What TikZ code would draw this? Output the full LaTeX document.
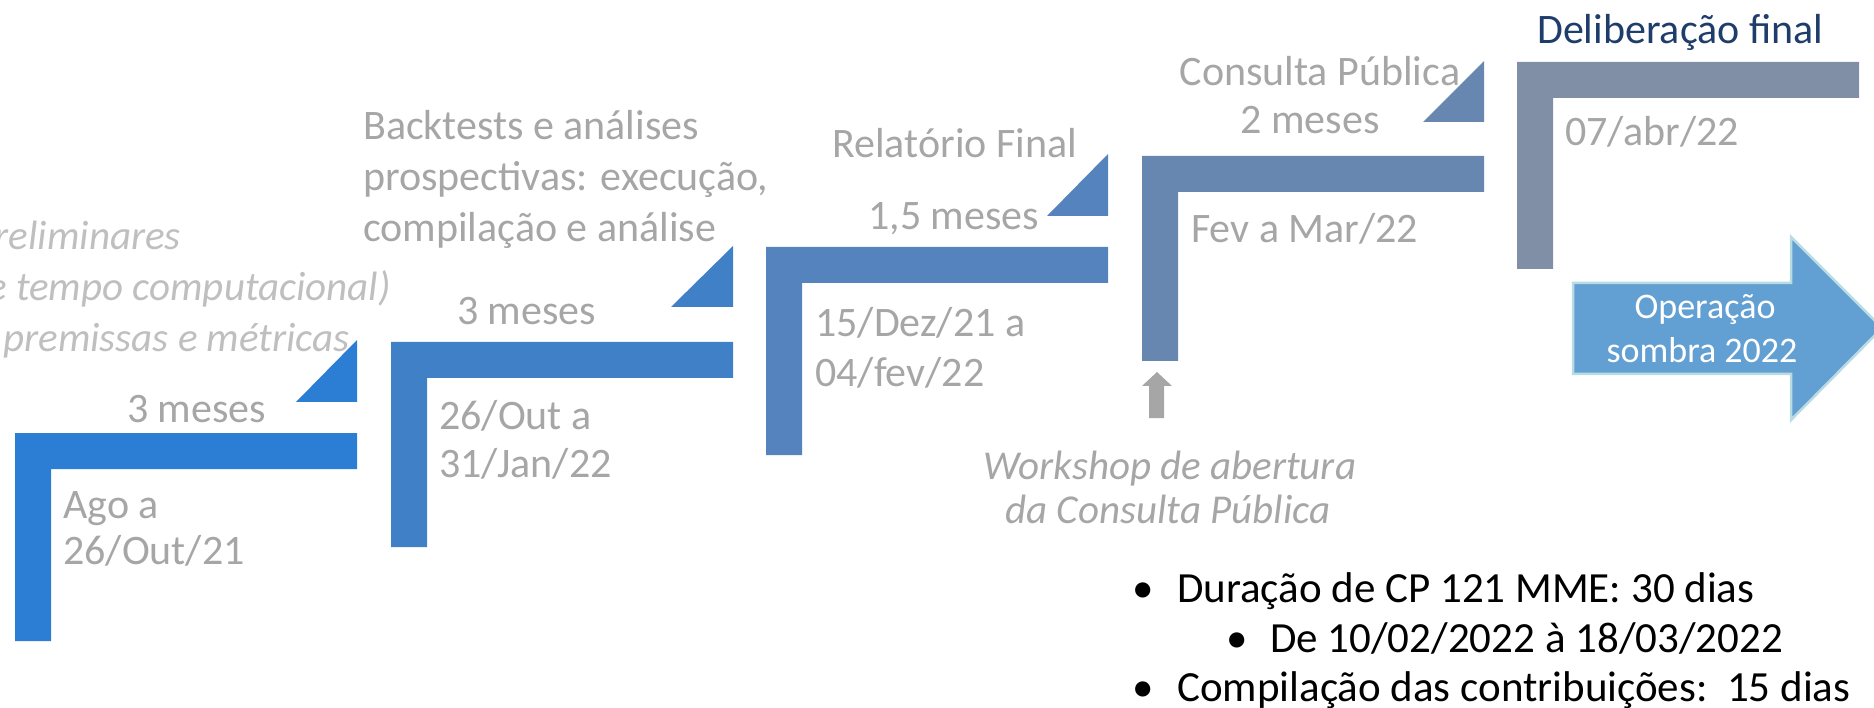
\documentclass[tikz,border=0pt]{standalone}
\usepackage{fontspec}
\setmainfont{Carlito}
\definecolor{sA}{HTML}{2C7ED4}
\definecolor{sB}{HTML}{4080C7}
\definecolor{sC}{HTML}{5483BD}
\definecolor{sD}{HTML}{6887B0}
\definecolor{sE}{HTML}{808EA6}
\definecolor{txtgrey}{HTML}{A6A6A6}
\definecolor{ltgrey}{HTML}{BFBFBF}
\definecolor{navy}{HTML}{1F3D6B}
\definecolor{opfill}{HTML}{629FD2}
\definecolor{opedge}{HTML}{B9DCE3}
\begin{document}
\begin{tikzpicture}[x=1pt,y=-1pt,
  lbl/.style={inner sep=0pt, text=txtgrey, font=\fontsize{42}{50}\selectfont},
  ital/.style={inner sep=0pt, text=ltgrey, font=\fontsize{41}{50}\selectfont\itshape},
  wsl/.style={inner sep=0pt, text=txtgrey, font=\fontsize{41}{50}\selectfont\itshape},
  bul/.style={inner sep=0pt, text=black, font=\fontsize{43}{50}\selectfont},
  optext/.style={inner sep=0pt, text=white, font=\fontsize{36}{44}\selectfont},
  ttl/.style={inner sep=0pt, text=navy, font=\fontsize{42}{50}\selectfont}
]
\useasboundingbox (0,0) rectangle (1874,708);

% step shapes (L-shapes) and triangles
\fill[sA] (15,433) -- (357,433) -- (357,469) -- (51,469) -- (51,641) -- (15,641) -- cycle;
\fill[sA] (296,402) -- (357,402) -- (357,340) -- cycle;
\fill[sB] (391,342) -- (733,342) -- (733,378) -- (427,378) -- (427,547) -- (391,547) -- cycle;
\fill[sB] (671,307) -- (733,307) -- (733,246) -- cycle;
\fill[sC] (766,247) -- (1108,247) -- (1108,283) -- (802,283) -- (802,455) -- (766,455) -- cycle;
\fill[sC] (1047,216) -- (1108,216) -- (1108,154) -- cycle;
\fill[sD] (1142,156) -- (1484,156) -- (1484,192) -- (1178,192) -- (1178,361) -- (1142,361) -- cycle;
\fill[sD] (1423,122) -- (1484,122) -- (1484,61) -- cycle;
\fill[sE] (1517,62) -- (1859,62) -- (1859,98) -- (1553,98) -- (1553,269) -- (1517,269) -- cycle;

% big arrow
\draw[fill=opfill, draw=opedge, line width=2.5pt, line join=miter]
  (1573,283) -- (1791,283) -- (1791,237) -- (1882,328) -- (1791,420) -- (1791,374) -- (1573,374) -- cycle;

% grey up arrow
\fill[txtgrey] (1149,418) -- (1149,386) -- (1142,386) -- (1157,372) -- (1172,386) -- (1164,386) -- (1164,418) -- cycle;

% step 1 texts
\node[ital, anchor=base east] (p1) at (181,250) {preliminares};
\node[ital, anchor=base east] (p2) at (391,301) {e tempo computacional)};
\node[ital, anchor=base east] (p3) at (350,352) {premissas e métricas};
\node[lbl, anchor=base west] (d1) at (127,422) {3 meses};
\node[lbl, anchor=base west] (a1) at (63,518) {Ago a};
\node[lbl, anchor=base west] (a2) at (63,564) {26/Out/21};

% step 2 texts
\node[lbl, anchor=base west] (b1) at (363,140) {Backtests e análises};
\node[lbl, anchor=base west] (b2) at (363,191) {prospectivas: execução,};
\node[lbl, anchor=base west] (b3) at (363,242) {compilação e análise};
\node[lbl, anchor=base west] (d2) at (457,325) {3 meses};
\node[lbl, anchor=base west] (c1) at (439,429) {26/Out a};
\node[lbl, anchor=base west] (c2) at (439,477) {31/Jan/22};

% step 3 texts
\node[lbl, anchor=base west] (r1) at (832,158) {Relatório Final};
\node[lbl, anchor=base west] (d3) at (868,230) {1,5 meses};
\node[lbl, anchor=base west] (e1) at (815,337) {15/Dez/21 a};
\node[lbl, anchor=base west] (e2) at (815,387) {04/fev/22};

% step 4 texts
\node[lbl, anchor=base] (cp1) at (1320,86) {Consulta Pública};
\node[lbl, anchor=base] (cp2) at (1310,134) {2 meses};
\node[lbl, anchor=base west] (f1) at (1191,243) {Fev a Mar/22};

% step 5 texts
\node[ttl, anchor=base west] (t5) at (1537,44) {Deliberação final};
\node[lbl, anchor=base west] (g1) at (1565,146) {07/abr/22};

% arrow text
\node[optext, anchor=base] (o1) at (1705,319) {Operação};
\node[optext, anchor=base] (o2) at (1702,363) {sombra 2022};

% workshop text
\node[wsl, anchor=base] (w1) at (1170,479) {Workshop de abertura};
\node[wsl, anchor=base] (w2) at (1168,523) {da Consulta Pública};

% bullets
\node[bul, anchor=base] (k1) at (1143,602) {•};
\node[bul, anchor=base west] (l1) at (1177,602) {Duração de CP 121 MME: 30 dias};
\node[bul, anchor=base] (k2) at (1237,652) {•};
\node[bul, anchor=base west] (l2) at (1270,652) {De 10/02/2022 à 18/03/2022};
\node[bul, anchor=base] (k3) at (1143,701) {•};
\node[bul, anchor=base west] (l3) at (1177,701) {Compilação das contribuições:\ \ 15 dias};
\end{tikzpicture}
\end{document}
